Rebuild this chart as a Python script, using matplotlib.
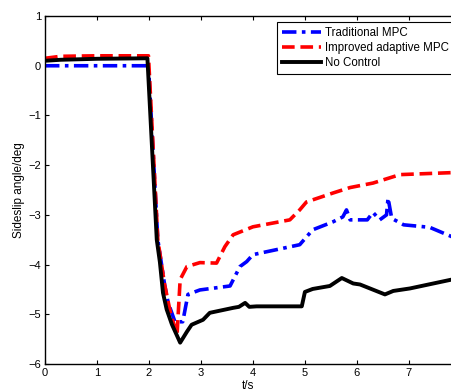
import numpy as np
import matplotlib
matplotlib.use('Agg')
from matplotlib import pyplot as plt

plt.rcParams['font.family'] = ['Liberation Sans', 'DejaVu Sans']

# sideslip angle response
t_nc = [0.0, 0.3, 1.0, 1.97, 2.15, 2.21, 2.27, 2.34, 2.44, 2.6, 2.73, 2.82, 3.04, 3.17,
        3.62, 3.73, 3.85, 3.93, 4.07, 4.94, 5.0, 5.15, 5.48, 5.71, 5.93, 6.06, 6.54, 6.7,
        7.02, 7.83]
beta_nc = [0.1, 0.12, 0.14, 0.15, -3.5, -3.95, -4.57, -4.9, -5.2, -5.57, -5.35, -5.21,
           -5.11, -4.97, -4.87, -4.85, -4.77, -4.85, -4.84, -4.84, -4.55, -4.49, -4.43,
           -4.27, -4.38, -4.4, -4.6, -4.53, -4.48, -4.3]

t_imp = [0.0, 0.3, 1.0, 1.99, 2.17, 2.3, 2.42, 2.54, 2.6, 2.73, 2.98, 3.3, 3.46, 3.62,
         4.0, 4.71, 4.9, 5.03, 5.54, 5.87, 6.31, 6.83, 7.83]
beta_imp = [0.15, 0.19, 0.2, 0.2, -3.5, -4.4, -5.0, -5.41, -4.3, -4.04, -3.96, -3.97,
            -3.64, -3.4, -3.24, -3.1, -2.9, -2.74, -2.56, -2.45, -2.36, -2.19, -2.15]

t_trad = [0.0, 1.0, 1.99, 2.17, 2.3, 2.37, 2.5, 2.65, 2.75, 2.98, 3.56, 3.75, 3.88, 4.0,
          4.9, 5.15, 5.54, 5.73, 5.8, 5.87, 6.2, 6.31, 6.44, 6.57, 6.6, 6.67, 6.9, 7.4, 7.83]
beta_trad = [0.0, 0.0, 0.0, -3.5, -4.4, -4.77, -5.15, -5.15, -4.6, -4.51, -4.43, -4.04,
             -3.94, -3.8, -3.6, -3.3, -3.14, -3.04, -2.9, -3.1, -3.1, -2.95, -3.1, -3.0,
             -2.66, -3.07, -3.2, -3.25, -3.44]

fig = plt.figure(figsize=(4.52, 3.91), dpi=100)
ax = fig.add_axes([0.0996, 0.069, 0.9004, 0.890])

ax.plot(t_trad, beta_trad, color='#0000ff', lw=2.6, linestyle=(0, (4, 1.5, 1, 1.5)),
        label='Traditional MPC')
ax.plot(t_imp, beta_imp, color='#ff0000', lw=2.6, linestyle=(0, (3.5, 1.6)),
        label='Improved adaptive MPC')
ax.plot(t_nc, beta_nc, color='black', lw=2.8, label='No Control')

ax.set_xlim(0, 7.83)
ax.set_ylim(-6, 1)
ax.set_xticks(np.arange(0, 8))
ax.set_yticks(np.arange(-6, 2))
ax.tick_params(direction='in', labelsize=8, length=3, top=True, right=False, pad=3)
ax.spines['right'].set_visible(False)
for s in ['left', 'top', 'bottom']:
    ax.spines[s].set_linewidth(1.0)

ax.set_xlabel('t/s', fontsize=8.5, labelpad=1)
ax.set_ylabel('Sideslip angle/deg', fontsize=8.5, labelpad=2)

leg = ax.legend(loc='upper left', bbox_to_anchor=(0.570, 0.983), fontsize=8.3,
                fancybox=False, framealpha=1, edgecolor='black', borderaxespad=0,
                handlelength=3.4, handletextpad=0.4, labelspacing=0.3, borderpad=0.4)
leg.get_frame().set_linewidth(0.8)

fig.savefig('out.png', dpi=100)
